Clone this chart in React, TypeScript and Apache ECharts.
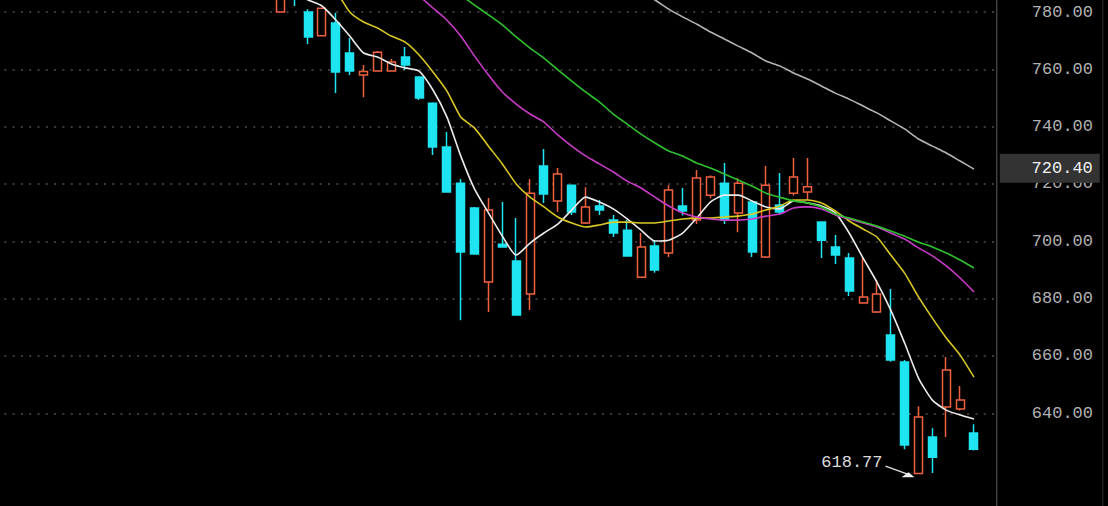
import React, { useEffect, useRef } from 'react';
import * as echarts from 'echarts';

// empty sessions to the left of the first visible candle, and one after the last
const leadPad = 20;
const tailPad = 1;

// [open, close, low, high]
const candles: number[][] = [
  [780.0, 787.0, 780.0, 789.0],
  [792.0, 786.0, 782.1, 795.0],
  [780.0, 771.3, 768.8, 781.0],
  [771.7, 781.3, 771.5, 781.6],
  [776.2, 759.1, 751.7, 779.7],
  [765.7, 759.4, 758.0, 770.9],
  [758.0, 759.2, 750.3, 761.5],
  [759.4, 766.0, 759.2, 766.4],
  [759.4, 762.6, 759.2, 763.6],
  [764.3, 761.5, 759.8, 767.8],
  [757.3, 750.0, 749.3, 757.6],
  [748.2, 732.9, 730.1, 748.5],
  [732.9, 717.2, 717.0, 738.1],
  [720.3, 696.3, 672.5, 721.7],
  [711.6, 695.6, 695.5, 712.0],
  [685.8, 710.9, 675.3, 715.1],
  [699.0, 698.0, 697.8, 713.7],
  [693.1, 674.3, 674.2, 708.1],
  [681.6, 716.8, 676.0, 721.7],
  [726.3, 716.5, 713.4, 732.2],
  [714.1, 723.5, 710.2, 725.6],
  [719.6, 710.2, 709.2, 719.8],
  [706.4, 712.0, 706.0, 718.9],
  [712.3, 710.9, 709.2, 714.4],
  [707.4, 702.9, 701.5, 709.2],
  [703.9, 694.9, 694.8, 707.4],
  [687.5, 698.0, 687.3, 702.9],
  [698.4, 690.0, 689.0, 700.4],
  [695.9, 717.9, 694.5, 719.6],
  [712.3, 710.6, 709.0, 718.6],
  [707.4, 722.1, 706.0, 724.9],
  [716.1, 722.4, 715.0, 723.0],
  [720.3, 707.4, 706.0, 727.3],
  [709.9, 720.3, 703.2, 722.0],
  [713.7, 696.3, 694.5, 714.0],
  [694.5, 719.6, 694.2, 726.3],
  [712.7, 710.2, 709.5, 723.8],
  [716.8, 722.4, 716.0, 729.1],
  [717.2, 719.0, 714.4, 729.1],
  [706.7, 700.4, 694.2, 706.8],
  [698.0, 695.2, 692.1, 702.2],
  [694.2, 682.7, 680.9, 695.9],
  [678.5, 680.6, 678.4, 694.5],
  [675.3, 681.6, 675.0, 686.5],
  [667.3, 658.6, 658.0, 683.4],
  [657.9, 628.9, 627.5, 658.6],
  [619.0, 638.7, 618.77, 642.5],
  [631.7, 624.7, 619.2, 634.8],
  [642.2, 655.1, 631.7, 659.6],
  [641.5, 644.6, 641.0, 649.5],
  [633.1, 627.5, 627.0, 636.2],
];

const ma5 = [
  789.8, 787.0, 784.2, 782.1, 777.2, 771.6, 765.7, 764.3, 761.9, 760.5,
  759.4, 752.8, 743.4, 729.8, 718.2, 709.9, 701.8, 695.2, 699.4, 702.9,
  706.0, 710.9, 715.4, 713.7, 711.3, 707.8, 703.9, 700.1, 700.4, 702.9,
  708.1, 713.7, 716.1, 716.1, 714.1, 712.0, 711.3, 714.1, 713.4, 712.3,
  709.9, 702.9, 694.2, 685.8, 676.0, 664.5, 652.3, 644.6, 641.1, 639.4,
  638.0,
];

const ma10 = [
  801.6, 798.0, 794.7, 791.0, 787.3, 780.0, 776.5, 774.4, 771.6, 769.5,
  765.0, 759.1, 752.5, 743.4, 739.5, 733.2, 727.0, 720.0, 715.4, 712.0,
  708.5, 706.4, 705.0, 705.7, 706.7, 706.7, 706.4, 706.4, 707.1, 707.8,
  708.1, 708.1, 708.5, 708.8, 709.5, 710.9, 712.3, 714.4, 714.4, 713.4,
  710.6, 707.1, 704.3, 701.5, 695.2, 688.9, 680.6, 673.2, 666.3, 660.3,
  652.6,
];

const ma20 = [
  826.8, 822.6, 818.4, 814.2, 810.0, 805.8, 801.6, 797.4, 793.6, 789.8,
  785.6, 781.4, 777.2, 771.6, 764.6, 758.0, 752.1, 747.9, 744.4, 741.6,
  737.1, 733.2, 729.8, 727.0, 724.2, 721.0, 718.6, 715.4, 712.3, 709.9,
  708.5, 707.8, 707.4, 707.4, 707.8, 708.8, 709.5, 711.6, 712.0, 711.3,
  709.2, 707.8, 706.4, 705.0, 702.9, 700.8, 697.7, 694.9, 691.4, 687.2,
  682.3,
];

const ma30 = [
  835.4, 831.6, 827.8, 824.0, 820.2, 816.4, 812.6, 808.8, 805.0, 801.2,
  797.4, 793.6, 789.8, 785.9, 782.4, 779.0, 775.5, 771.3, 767.4, 763.9,
  759.8, 755.9, 752.1, 748.6, 744.4, 740.9, 737.4, 734.3, 731.5, 729.8,
  727.3, 725.6, 723.5, 721.4, 719.3, 716.8, 715.4, 714.1, 713.4, 712.0,
  709.5, 708.1, 706.7, 705.3, 703.6, 701.8, 699.7, 698.0, 695.9, 693.5,
  690.7,
];

const ma60 = [
  849.0, 846.6, 844.2, 841.8, 839.4, 837.0, 834.6, 832.2, 829.8, 827.4,
  825.0, 822.6, 820.2, 817.8, 815.4, 813.0, 810.6, 808.2, 805.8, 803.4,
  801.0, 798.6, 796.2, 793.8, 791.4, 789.0, 786.6, 784.2, 781.0, 778.3,
  775.8, 773.0, 770.6, 768.1, 765.7, 762.9, 761.2, 758.7, 756.6, 754.2,
  751.7, 749.6, 747.2, 744.8, 742.0, 739.2, 735.7, 733.2, 730.8, 728.0,
  725.2,
];

// labelled price levels shown on the right axis
const yMin = 640;
const yMax = 780;
const yStep = 20;

const currentPrice = 720.4;
const lowPrice = 618.77;
const lowCandle = 46;

const totalSessions = leadPad + candles.length + tailPad;
const sessions: string[] = Array.from({ length: totalSessions }, (_, i) => 'S' + (i + 1));

const pad = (arr: any[]) => [
  ...Array(leadPad).fill('-'),
  ...arr,
  ...Array(tailPad).fill('-'),
];

const MONO = '"Liberation Mono", "DejaVu Sans Mono", monospace';

// the chart box starts a little left of the window
const BOX_LEFT = -3.8;
const BOX_W = 1108 - BOX_LEFT;
const BOX_H = 506;

export default function App() {
  const ref = useRef<HTMLDivElement>(null);

  useEffect(() => {
    document.body.style.margin = '0';
    document.body.style.background = '#000';
    document.body.style.overflow = 'hidden';
    document.documentElement.style.overflow = 'hidden';
    const chart = echarts.init(ref.current!, undefined, { renderer: 'svg' });

    const maLine = (name: string, data: number[], color: string) => ({
      name,
      type: 'line',
      data: pad(data),
      showSymbol: false,
      symbol: 'none',
      smooth: 0.2,
      clip: false,
      lineStyle: { color, width: 1.6 },
      z: 3,
    });

    chart.setOption({
      animation: false,
      backgroundColor: '#000',
      grid: {
        left: 0,
        right: 113.2,
        top: 12,
        bottom: 92.7,
        containLabel: false,
        outerBoundsMode: 'none',
      },
      xAxis: {
        type: 'category',
        data: sessions,
        boundaryGap: true,
        show: false,
      },
      yAxis: {
        type: 'value',
        position: 'right',
        offset: 2.2,
        min: yMin,
        max: yMax,
        interval: yStep,
        axisLine: { show: false },
        axisTick: { show: false },
        axisLabel: {
          color: '#b2b2b2',
          fontFamily: MONO,
          fontSize: 17,
          align: 'right',
          margin: 96,
          formatter: (v: number) => v.toFixed(2),
        },
        splitLine: {
          show: true,
          lineStyle: { color: '#4f4f4f', width: 1.6, type: [2, 6.3] },
        },
      },
      series: [
        {
          name: 'K',
          type: 'candlestick',
          data: pad(candles),
          barWidth: 8.5,
          clip: false,
          itemStyle: {
            color: '#000',
            color0: '#1fe4f2',
            borderColor: '#f2613f',
            borderColor0: '#1fe4f2',
            borderWidth: 1.5,
          },
          z: 2,
        },
        maLine('MA5', ma5, '#ececec'),
        maLine('MA10', ma10, '#d9c726'),
        maLine('MA20', ma20, '#c83cc8'),
        maLine('MA30', ma30, '#2fc02f'),
        maLine('MA60', ma60, '#b4b4b4'),
      ],
    });

    const lowPt = chart.convertToPixel({ xAxisIndex: 0, yAxisIndex: 0 }, [
      sessions[leadPad + lowCandle],
      lowPrice,
    ]) as number[];
    const priceY = chart.convertToPixel({ yAxisIndex: 0 }, currentPrice) as number;
    const lx = lowPt[0];
    const ly = lowPt[1];
    // page x -> chart x
    const px = (x: number) => x - BOX_LEFT;

    chart.setOption({
      graphic: [
        {
          type: 'line',
          z: 100,
          shape: { x1: px(997), y1: 0, x2: px(997), y2: BOX_H },
          style: { stroke: '#5e5e5e', lineWidth: 1 },
        },
        {
          type: 'line',
          z: 100,
          shape: { x1: px(1103), y1: 0, x2: px(1103), y2: BOX_H },
          style: { stroke: '#2c2c2c', lineWidth: 1 },
        },
        {
          type: 'rect',
          z: 100,
          shape: { x: px(1000), y: priceY - 29, width: 100, height: 29 },
          style: { fill: '#333333' },
        },
        {
          type: 'text',
          z: 101,
          x: px(1093),
          y: priceY - 14.5,
          style: {
            text: currentPrice.toFixed(2),
            fill: '#f2f2f2',
            font: '17px ' + MONO,
            align: 'right',
            verticalAlign: 'middle',
          },
        },
        {
          type: 'text',
          z: 101,
          x: lx - 36,
          y: ly - 12,
          style: {
            text: lowPrice.toFixed(2),
            fill: '#dcdcdc',
            font: '17px ' + MONO,
            align: 'right',
            verticalAlign: 'middle',
          },
        },
        {
          type: 'line',
          z: 101,
          shape: { x1: lx - 33, y1: ly - 8, x2: lx - 11, y2: ly },
          style: { stroke: '#e0e0e0', lineWidth: 1.3 },
        },
        {
          type: 'polygon',
          z: 101,
          shape: { points: [[lx - 17, ly + 3], [lx - 4, ly + 3], [lx - 10, ly - 2]] },
          style: { fill: '#f0f0f0' },
        },
      ],
    });

    return () => chart.dispose();
  }, []);

  return (
    <div
      ref={ref}
      style={{
        position: 'fixed',
        left: BOX_LEFT,
        top: 0,
        width: BOX_W,
        height: BOX_H,
        background: '#000',
      }}
    />
  );
}
